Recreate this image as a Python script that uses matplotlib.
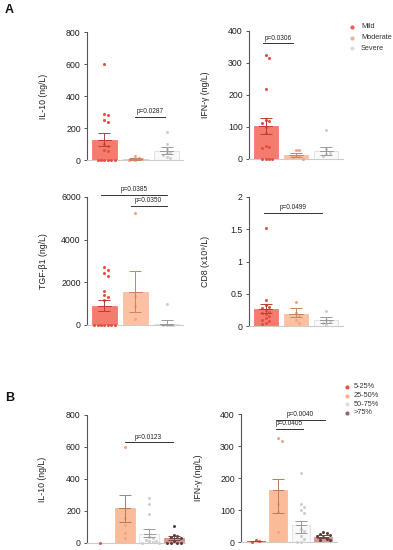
import matplotlib
matplotlib.use("Agg")
import matplotlib.pyplot as plt
import numpy as np

plt.rcParams['font.family'] = ['Liberation Sans', 'DejaVu Sans']

W, H = 393, 550

# ---------------- data ----------------
sev_labels_a = ["Mild", "Moderate", "Severe"]
pct_labels_b = ["5-25%", "25-50%", "50-75%", ">75%"]

# A1 IL-10
a1_mild = [600, 285, 280, 250, 240, 100, 85, 60, 55, 0, 0, 0, 0, 0, 0]
a1_mod = [25, 12, 8, 5, 3, 0]
a1_sev = [175, 100, 70, 50, 45, 30, 20, 10]
a1_mean = [125, 8, 55]
a1_lo = [87, 3, 35]
a1_hi = [167, 14, 82]

# A2 IFN-gamma
a2_mild = [325, 315, 218, 122, 118, 112, 100, 80, 40, 38, 35, 0, 0, 0, 0]
a2_mod = [28, 27, 10, 8, 5, 0]
a2_sev = [90, 30, 20, 15, 10]
a2_mean = [103, 12, 25]
a2_lo = [78, 6, 14]
a2_hi = [128, 19, 38]

# A3 TGF-beta1
a3_mild = [2700, 2580, 2450, 2300, 1600, 1400, 1300, 1150, 0, 0, 0, 0, 0, 0, 0]
a3_mod = [5250, 1350, 900, 300]
a3_sev = [1000, 0, 0, 0, 0]
a3_mean = [906, 1560, 40]
a3_lo = [656, 594, 0]
a3_hi = [1156, 2547, 234]

# A4 CD8
a4_mild = [1.52, 0.40, 0.33, 0.30, 0.28, 0.25, 0.22, 0.20, 0.18, 0.15, 0.12, 0.10, 0.08, 0.05, 0.03]
a4_mod = [0.37, 0.20, 0.15, 0.10, 0.05]
a4_sev = [0.24, 0.10, 0.08, 0.05, 0.02]
a4_mean = [0.26, 0.19, 0.09]
a4_lo = [0.20, 0.14, 0.05]
a4_hi = [0.34, 0.28, 0.14]

# B1 IL-10
b1_g1 = [0]
b1_g2 = [600, 155, 110, 60, 30]
b1_g3 = [280, 245, 180, 40, 30, 20, 15, 10, 5, 0, 0]
b1_g4 = [105, 50, 45, 40, 30, 10, 0, 0, 0, 0]
b1_mean = [0, 218, 58, 32]
b1_lo = [0, 131, 35, 20]
b1_hi = [0, 300, 88, 45]

# B2 IFN-gamma
b2_g1 = [5, 2, 0]
b2_g2 = [325, 315, 120, 95, 30]
b2_g3 = [215, 120, 110, 100, 90, 40, 35, 20, 10, 0, 0]
b2_g4 = [30, 28, 25, 22, 20, 15, 10, 5, 5]
b2_mean = [3, 162, 54, 17]
b2_lo = [2, 92, 28, 12]
b2_hi = [4, 196, 65, 22]

# ---------------- styles ----------------
fill_a = ['#f47b6d', '#fcc1a2', '#f9f9f9']
edge_a = ['#f47b6d', '#fcc1a2', '#dedede']
pt_a = ['#e4503f', '#f6a37f', '#cfcfcf']
err_a = ['#b8402f', '#c98560', '#9a9a9a']
fill_b = ['#e2553f', '#fabb98', '#f9f9f9', '#d4968e']
edge_b = ['#e2553f', '#fabb98', '#dedede', '#d4968e']
pt_b = ['#e2553f', '#f6a37f', '#cfcfcf', '#5e3f3f']
err_b = ['#b8402f', '#b9785a', '#9a9a9a', '#6e4742']
leg_a = ['#e8604f', '#f8b08c', '#dddddd']
leg_b = ['#e0553f', '#f8b08c', '#dddddd', '#8e6a6a']

fig = plt.figure(figsize=(W / 100, H / 100), dpi=100)


def px_axes(left, top0, bottom0, right):
    return fig.add_axes([left / W, (H - bottom0) / H, (right - left) / W, (bottom0 - top0) / H])


def swarm(vals, ypx_per_unit, xpx_per_unit, diam=3.3):
    order = np.argsort(vals)[::-1]
    placed = []
    xs = np.zeros(len(vals))
    step = 3.4 / xpx_per_unit
    for i in order:
        y = vals[i] * ypx_per_unit
        k = 0
        while True:
            off = ((k + 1) // 2) * step * (1 if k % 2 else -1) if k else 0.0
            ok = all((off * xpx_per_unit - px) ** 2 + (y - py) ** 2 >= diam ** 2 for px, py in placed)
            if ok:
                break
            k += 1
        placed.append((off * xpx_per_unit, y))
        xs[i] = off
    return xs


def panel(ax, groups, means, lo, hi, fills, edges, pts, errs, ymax, yticks, yticklabels,
          ylabel, xlim, width, ax_px_w, ax_px_h, ylab_x):
    ax.set_xlim(*xlim)
    ax.set_ylim(0, ymax)
    xpu = ax_px_w / (xlim[1] - xlim[0])
    ypu = ax_px_h / ymax
    for i, g in enumerate(groups):
        ax.bar(i, means[i], width=width, color=fills[i], edgecolor=edges[i], linewidth=0.6, zorder=1)
        xs = swarm(np.array(g, dtype=float), ypu, xpu)
        ax.scatter(i + xs, g, s=4.8, color=pts[i], linewidths=0, zorder=3, clip_on=False)
        if hi[i] > lo[i]:
            ax.errorbar(i, means[i], yerr=[[means[i] - lo[i]], [hi[i] - means[i]]], fmt='none',
                        ecolor=errs[i], elinewidth=0.7, capsize=4.3, capthick=0.7, zorder=4)
            ax.plot([i - 0.22, i + 0.22], [means[i]] * 2, color=errs[i], lw=0.7, zorder=4)
    for s in ['top', 'right']:
        ax.spines[s].set_visible(False)
    ax.spines['left'].set_color('#555555')
    ax.spines['left'].set_linewidth(0.8)
    ax.spines['bottom'].set_color('#cccccc')
    ax.spines['bottom'].set_linewidth(0.8)
    ax.set_xticks([])
    ax.set_yticks(yticks)
    ax.set_yticklabels(yticklabels)
    ax.tick_params(axis='y', length=2.5, width=0.7, color='#555555', labelsize=6.3, pad=2, labelcolor='#222222')
    ax.set_ylabel(ylabel, fontsize=6.3, color='#222222')
    ax.yaxis.set_label_coords(ylab_x, 0.5)


def pbar(ax, x0, x1, y, text):
    ax.plot([x0, x1], [y, y], color='#333333', lw=0.7, clip_on=False, zorder=5)
    ax.annotate(text, xy=((x0 + x1) / 2, y), xytext=(0, 1.2), textcoords='offset points',
                ha='center', va='bottom', fontsize=4.7, color='#222222', annotation_clip=False)


# A1
ax = px_axes(87, 32, 160, 183)
panel(ax, [a1_mild, a1_mod, a1_sev], a1_mean, a1_lo, a1_hi, fill_a, edge_a, pt_a, err_a, 800,
      [0, 200, 400, 600, 800], ['0', '200', '400', '600', '800'], 'IL-10 (ng/L)',
      (-0.56, 2.53), 0.8, 96, 128, -0.41)
pbar(ax, 1.0, 1.95, 270, 'p=0.0287')

# A2
ax = px_axes(249, 31, 159, 343)
panel(ax, [a2_mild, a2_mod, a2_sev], a2_mean, a2_lo, a2_hi, fill_a, edge_a, pt_a, err_a, 400,
      [0, 100, 200, 300, 400], ['0', '100', '200', '300', '400'], 'IFN-γ (ng/L)',
      (-0.55, 2.55), 0.8, 94, 128, -0.41)
pbar(ax, -0.1, 0.9, 361, 'p=0.0306')

# A3
ax = px_axes(87, 197, 325, 183)
panel(ax, [a3_mild, a3_mod, a3_sev], a3_mean, a3_lo, a3_hi, fill_a, edge_a, pt_a, err_a, 6000,
      [0, 2000, 4000, 6000], ['0', '2000', '4000', '6000'], 'TGF-β1 (ng/L)',
      (-0.56, 2.53), 0.8, 96, 128, -0.41)
pbar(ax, -0.1, 2.0, 6100, 'p=0.0385')
pbar(ax, 0.85, 2.0, 5600, 'p=0.0350')

# A4
ax = px_axes(249, 197, 326, 343)
panel(ax, [a4_mild, a4_mod, a4_sev], a4_mean, a4_lo, a4_hi, fill_a, edge_a, pt_a, err_a, 2,
      [0, 0.5, 1, 1.5, 2], ['0', '0.5', '1', '1.5', '2'], 'CD8 (x10⁹/L)',
      (-0.55, 2.55), 0.8, 94, 129, -0.42)
pbar(ax, -0.05, 1.85, 1.75, 'p=0.0499')

# B1
ax = px_axes(87, 415, 543, 185)
panel(ax, [b1_g1, b1_g2, b1_g3, b1_g4], b1_mean, b1_lo, b1_hi, fill_b, edge_b, pt_b, err_b, 800,
      [0, 200, 400, 600, 800], ['0', '200', '400', '600', '800'], 'IL-10 (ng/L)',
      (-0.53, 3.45), 0.8, 98, 128, -0.41)
pbar(ax, 1.0, 2.95, 629, 'p=0.0123')

# B2
ax = px_axes(241, 414, 542, 337)
panel(ax, [b2_g1, b2_g2, b2_g3, b2_g4], b2_mean, b2_lo, b2_hi, fill_b, edge_b, pt_b, err_b, 400,
      [0, 100, 200, 300, 400], ['0', '100', '200', '300', '400'], 'IFN-γ (ng/L)',
      (-0.65, 3.6), 0.8, 96, 128, -0.40)
pbar(ax, 0.9, 3.05, 381, 'p=0.0040')
pbar(ax, 0.9, 2.1, 353, 'p=0.0405')

# overlay for panel letters and legends
ov = fig.add_axes([0, 0, 1, 1])
ov.set_xlim(0, W)
ov.set_ylim(H, 0)
ov.axis('off')
ov.text(5, 10, 'A', fontsize=9, fontweight='bold', va='center', ha='left', color='#111111')
ov.text(5, 398, 'B', fontsize=9, fontweight='bold', va='center', ha='left', color='#111111')
for i, (lab, c) in enumerate(zip(sev_labels_a, leg_a)):
    y = 27 + i * 10.5
    ov.scatter([352], [y], s=9, color=c, linewidths=0)
    ov.text(361, y, lab, fontsize=5.3, va='center', ha='left', color='#333333')
for i, (lab, c) in enumerate(zip(pct_labels_b, leg_b)):
    y = 387 + i * 8.6
    ov.scatter([347], [y], s=9, color=c, linewidths=0)
    ov.text(354, y, lab, fontsize=5.3, va='center', ha='left', color='#333333')

fig.savefig('out.png', dpi=100)
